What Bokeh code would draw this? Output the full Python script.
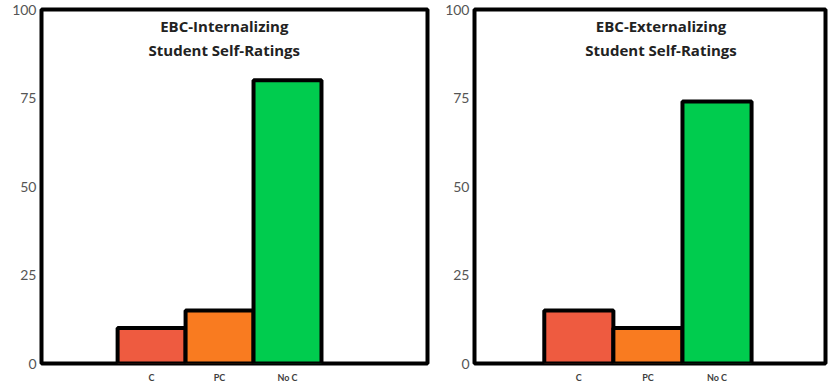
from bokeh.plotting import figure
from bokeh.models import Range1d, Label, FixedTicker, ColumnDataSource
from bokeh.layouts import row
from bokeh.embed import file_html
from bokeh.resources import INLINE

# ---- data ----
categories = ["C", "PC", "No C"]
bar_colors = ["#EE5B40", "#F97B20", "#00CC4E"]
internalizing = [10, 15, 80]
externalizing = [15, 10, 74]
title_left = ["EBC-Internalizing", "Student Self-Ratings"]
title_right = ["EBC-Externalizing", "Student Self-Ratings"]
y_ticks = [0, 25, 50, 75, 100]


def make_panel(values, title_lines, x_start, x_end, title_x, width, mbl, mbr):
    p = figure(width=width, height=385,
               x_range=Range1d(x_start, x_end), y_range=Range1d(0, 100),
               output_backend="svg", toolbar_location=None,
               min_border_left=mbl, min_border_right=mbr,
               min_border_top=9, min_border_bottom=21)
    idx = list(range(len(categories)))
    src = ColumnDataSource(dict(x=idx, top=values, color=bar_colors))
    p.vbar(x="x", top="top", bottom=0, width=1, fill_color="color",
           line_color="black", line_width=4, source=src)

    p.xgrid.visible = False
    p.ygrid.visible = False
    p.outline_line_color = "black"
    p.outline_line_width = 4
    p.background_fill_color = "white"
    p.border_fill_color = "white"

    p.xaxis.ticker = FixedTicker(ticks=idx)
    p.xaxis.major_label_overrides = {i: c for i, c in enumerate(categories)}
    p.yaxis.ticker = FixedTicker(ticks=y_ticks)
    for ax in (p.xaxis[0], p.yaxis[0]):
        ax.axis_line_color = None
        ax.major_tick_line_color = None
        ax.minor_tick_line_color = None
        ax.major_tick_out = 0
        ax.major_tick_in = 0
        ax.minor_tick_out = 0
    p.xaxis.major_label_text_font = "Lato"
    p.xaxis.major_label_text_font_style = "bold"
    p.xaxis.major_label_text_font_size = "9px"
    p.xaxis.major_label_text_color = "#404040"
    p.xaxis.major_label_standoff = 8
    p.yaxis.major_label_text_font = "Lato"
    p.yaxis.major_label_text_font_size = "14px"
    p.yaxis.major_label_text_color = "#555555"
    p.yaxis.major_label_standoff = 5

    for ty, txt in zip([95.2, 88.5], title_lines):
        p.add_layout(Label(x=title_x, y=ty, text=txt, text_align="center",
                           text_baseline="middle", text_font="Open Sans",
                           text_font_style="bold", text_font_size="15px",
                           text_color="#222222"))
    return p


left = make_panel(internalizing, title_left, -1.62, 4.06, 1.07, 437, 41, 10)
right = make_panel(externalizing, title_right, -1.51, 3.57, 1.19, 391, 37, 3)

p = row(left, right)
open("out.html", "w").write(file_html(p, INLINE))
